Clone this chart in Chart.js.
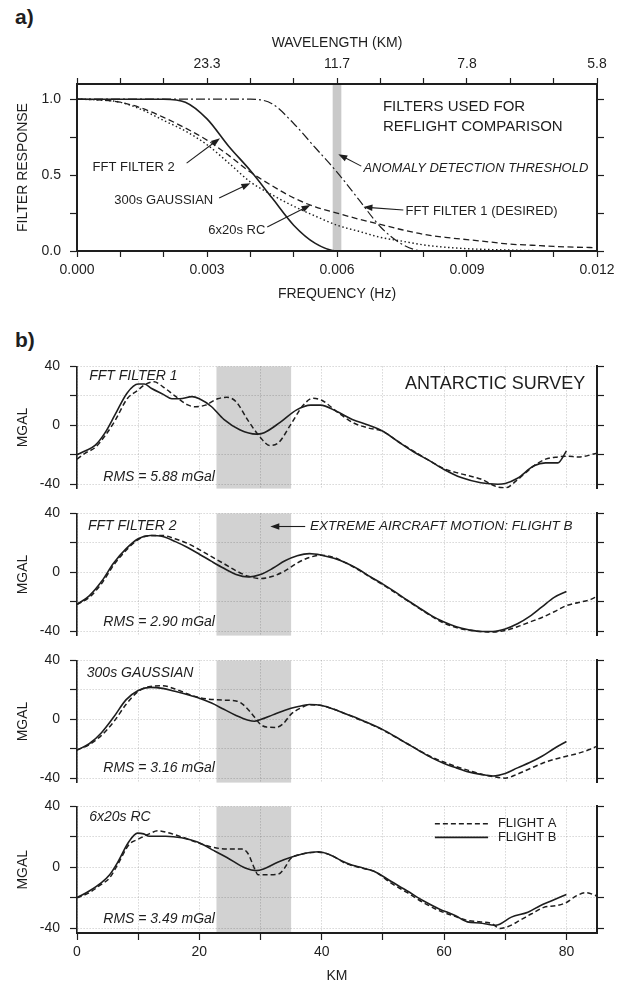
<!DOCTYPE html>
<html>
<head>
<meta charset="utf-8">
<script src="https://cdn.jsdelivr.net/npm/chart.js@4.4.1/dist/chart.umd.min.js"></script>
<style>
  body { margin: 0; background: #ffffff; }
  #wrap { position: relative; width: 628px; height: 984px; overflow: hidden; font-family: 'Liberation Sans', Arial, sans-serif; }
  canvas { position: absolute; left: 0; }
  .panel { position: absolute; left: 15px; font-weight: bold; font-size: 21px; line-height: 22px; color: #1e1e1e; }
</style>
</head>
<body>
<div id="wrap">
  <div class="panel" style="top:6px">a)</div>
  <div class="panel" style="top:329px">b)</div>
  <canvas id="cA" width="628" height="310" style="top:0px"></canvas>
  <canvas id="cB1" width="628" height="159" style="top:348px"></canvas>
  <canvas id="cB2" width="628" height="159" style="top:495px"></canvas>
  <canvas id="cB3" width="628" height="159" style="top:642px"></canvas>
  <canvas id="cB4" width="628" height="200" style="top:788px"></canvas>
</div>
<script>
// ---------------- Panel a data ----------------
const freqHz = [0, 0.0005, 0.001, 0.0015, 0.002, 0.0025, 0.003, 0.0035, 0.004, 0.0045, 0.005, 0.0055, 0.006,
                0.0065, 0.007, 0.0075, 0.008, 0.0085, 0.009, 0.0095, 0.01, 0.0105, 0.011, 0.0115, 0.012];
const respFft1  = [1, 1, 1, 1, 1, 1, 1, 1, 1, 0.97, 0.84, 0.68, 0.52, 0.34, 0.16, 0.045, 0, 0, 0, 0, 0, 0, 0, 0, 0];
const respFft2  = [1, 1, 1, 1, 1, 0.98, 0.87, 0.69, 0.53, 0.35, 0.17, 0.05, 0, 0, 0, 0, 0, 0, 0, 0, 0, 0, 0, 0, 0];
const respGauss = [1, 0.995, 0.98, 0.93, 0.86, 0.79, 0.70, 0.58, 0.455, 0.37, 0.295, 0.23, 0.17, 0.13, 0.09, 0.065,
                   0.04, 0.025, 0.015, 0.01, 0.006, 0.003, 0.002, 0.001, 0];
const respRC    = [1, 0.995, 0.98, 0.94, 0.88, 0.81, 0.73, 0.63, 0.52, 0.43, 0.35, 0.29, 0.25, 0.21, 0.175, 0.14,
                   0.11, 0.09, 0.075, 0.06, 0.045, 0.038, 0.03, 0.025, 0.022];
const freqTicks = [0, 0.001, 0.002, 0.003, 0.004, 0.005, 0.006, 0.007, 0.008, 0.009, 0.01, 0.011, 0.012];
const freqLabelHz = [0, 0.003, 0.006, 0.009, 0.012];
const freqLabels = ['0.000', '0.003', '0.006', '0.009', '0.012'];
const wavelengthHz = [0.003, 0.006, 0.009, 0.012];
const wavelengthLabels = ['23.3', '11.7', '7.8', '5.8'];
const responseTicks = [0, 0.25, 0.5, 0.75, 1];
const responseLabelAt = [0, 0.5, 1];
const responseLabels = ['0.0', '0.5', '1.0'];
const thresholdBandHz = [0.0059, 0.0061];

// ---------------- Panel b data ----------------
const fft1KmB = [0,1.3,3,4.6,6.2,8.2,10,11,12.2,14.1,15.5,16.8,18.8,20,22,24,26.6,29.3,30.6,33.2,35.9,38.2,39.8,42.4,45,47.7,50,52.3,55,57.6,60,62.8,66,68.8,70,72,74.7,76.6,78.6,80];
const fft1FlightB = [-20,-17.5,-13.5,-5,7,22,28,28,25,21,18,18,19.5,18,12.6,4,-3,-6,-5,2,10.5,13.7,13.7,9.5,4,0,-4,-10.5,-18,-24,-30,-35.5,-39,-40,-39.5,-36,-27.5,-25.5,-25.5,-17.5];
const fft1KmA = [0,1.3,3,4.6,6.2,8.2,10,11,12.6,14.1,16,18,19.4,21,23,24.5,26,28,30,31.5,33,35,37,38.5,40,42.4,45,47.5,50,52.3,55,57.6,60,62.8,66,68.8,70,72,74.7,76.6,78.6,80,82,85];
const fft1FlightA = [-23,-19,-15,-7,3,18,24,27.4,29.5,26,20,14,12.6,13.7,18,19,16,3,-8.4,-13.7,-11.6,1,13.7,18.3,17,9.5,2,-1.7,-4.2,-10.5,-17.5,-24,-29.5,-33,-36.5,-42,-42.5,-37,-27.5,-23,-21.5,-21,-21.5,-19];

const fft2KmB = [0,2,4,6,8,10,12,14,16,18,20,22,24,26,28,30,32,34,36,38,40,42,44,46,48,50,52,54,56,58,60,62,64,66,68,70,72,74,76,78,80];
const fft2FlightB = [-21.8,-16,-6.3,6.3,15.9,22.8,25,24.3,21,17,12.3,7.4,2.7,-1.5,-3.2,-1.5,2.7,7.8,11.2,12.7,11.6,9.5,6.3,2.1,-3.2,-8,-13.3,-19,-24.3,-29.6,-33.8,-37,-39,-40.2,-40.2,-38.5,-35,-30,-23.5,-17,-13];
const fft2KmA = [0,2,4,6,8,10,12,14,16,18,20,22,24,26,28,30,32,34,36,38,40,42,44,46,48,50,52,54,56,58,60,62,64,66,68,70,72,74,76,78,80,82,84,85];
const fft2FlightA = [-21.8,-17,-7.8,4.9,14.8,22.2,25,25,22.8,19.7,15.4,10.6,5.9,1,-2.7,-4.2,-2.7,1,6.3,10.1,11.6,10.1,6.3,1.7,-3.4,-8.5,-13.8,-19.3,-24.7,-30,-34.5,-37.5,-39.3,-40.2,-40.6,-39.5,-37,-33.8,-30.7,-26.8,-22.6,-20.5,-18.4,-16.3];

const gaussKmB = [0,2,4,6,8,10,12,14,16,18,20,22,24,26,28,29,30,32,34,36,38,40,42,44,46,48,50,52,54,56,58,60,62,64,66,68,70,72,74,76,78,80];
const gaussFlightB = [-20.9,-16.6,-9.1,1.5,13.2,19.6,21.7,21,19,16.8,14.3,11,6.8,2.6,-0.6,-1.3,-0.2,3,6.2,8.5,10,9.4,6.8,3.6,0.4,-3.2,-7,-11.7,-16.6,-21.5,-26.2,-30,-33,-35.7,-37.4,-38.5,-36.8,-33,-29.4,-25.1,-19.8,-15.1];
const gaussKmA = [0,2,4,6,8,10,12,14,16,18,20,22,24,26,27,28,29,30,31,32.5,33.7,35,36.5,38,40,42,44,46,48,50,54,58,62,64,66,68,70,72,74,76,78,80,82,84,85];
const gaussFlightA = [-20.9,-17.2,-10.9,-1.7,10,18.9,22.3,22.8,20.6,17.4,14.7,13.5,13,12.5,10.5,6.5,1.5,-3.5,-5.3,-5.5,-3,3.5,7.5,9.8,9.4,6.8,3.6,0,-3.4,-7.4,-16.6,-25.7,-32.1,-34.7,-37.2,-38.9,-40,-37.2,-33.6,-30,-27.2,-25.1,-23,-20.2,-18.3];

const rcKmB = [0,2,4,5.3,6.6,8.5,9.9,10.9,11.8,14.5,17.1,19.7,22.4,24.5,27.6,29.3,30.5,32.9,36.8,39.5,41.4,43.4,44.7,46,48.7,51.3,54,56.6,59.2,61.8,63.8,65.8,68.4,69.1,71,73.7,75.7,77.6,80];
const rcFlightB = [-19.8,-15.5,-10,-5,3,17,22.5,22,20.4,20.4,19.4,16.6,11,6.5,-0.6,-2.1,-1,3.6,8.8,10.3,8.2,4,1.9,0.4,-2.8,-9.1,-15.5,-21.9,-27.2,-31.5,-35.7,-36.4,-37.9,-37.2,-32.6,-29.4,-25.1,-21.9,-17.7];
const rcKmA = [0,2,3.9,5.3,6.6,8.5,9.9,11.8,13.2,15.1,17.1,19.7,22.4,25,27,28,29,29.6,30.9,32.9,33.9,34.9,36.8,39.5,41.4,44,46.7,48.7,51.3,54,56.6,59.2,61.8,63.8,65.8,67.8,69.1,70.4,72.4,74.3,76.3,78.3,80,81.6,83.2,85];
const rcFlightA = [-20,-16.6,-11.3,-7,1.5,15,18.3,22,24,22.5,20,16.2,13,12,12,8.8,-0.6,-4.8,-4.8,-4.4,-0.6,5.7,8.8,9.9,8.2,2.5,-0.6,-2.8,-10.2,-16.6,-23,-28.3,-32.1,-34.7,-35.7,-36.8,-40,-38.9,-34.7,-30.4,-26.2,-25.1,-23,-18.7,-16.6,-18.7];

const kmGridTicks = [0,10,20,30,40,50,60,70,80];
const kmLabelAt = [0,20,40,60,80];
const kmLabels = ['0','20','40','60','80'];
const mgalTicks = [-40,-20,0,20,40];
const mgalLabelAt = [-40,0,40];
const mgalLabels = ['-40','0','40'];
const motionShadeKm = [22.8, 35];
const rmsTexts = ['RMS = 5.88 mGal', 'RMS = 2.90 mGal', 'RMS = 3.16 mGal', 'RMS = 3.49 mGal'];
const filterNames = ['FFT FILTER 1', 'FFT FILTER 2', '300s GAUSSIAN', '6x20s RC'];

// ---------------- helpers ----------------
const FONT = "'Liberation Sans', Arial, sans-serif";
const INK = '#1e1e1e';
const GRID = 'rgba(0,0,0,0.30)';
Chart.defaults.font.family = FONT;
Chart.defaults.color = INK;

function pick(v, at, labels) {
  for (let i = 0; i < at.length; i++) if (Math.abs(v - at[i]) < 1e-9) return labels[i];
  return '';
}
function series(xs, ys, dash, width) {
  return {
    data: xs.map((x, i) => ({ x: x, y: ys[i] })),
    borderColor: INK, borderWidth: width, borderDash: dash,
    pointRadius: 0, fill: false, cubicInterpolationMode: 'monotone',
    borderCapStyle: 'butt', borderJoinStyle: 'round'
  };
}
function shadePlugin(range, color) {
  return {
    id: 'shade',
    beforeDraw(chart) {
      const { ctx, chartArea: a, scales: { x } } = chart;
      const x0 = x.getPixelForValue(range[0]), x1 = x.getPixelForValue(range[1]);
      ctx.save();
      ctx.fillStyle = color;
      ctx.fillRect(x0, a.top, x1 - x0, a.bottom - a.top);
      ctx.restore();
    }
  };
}
function notesPlugin(spec) {
  return {
    id: 'notes',
    afterDatasetsDraw(chart) {
      const { ctx, scales: { x, y } } = chart;
      ctx.save();
      ctx.fillStyle = INK; ctx.strokeStyle = INK;
      (spec.texts || []).forEach(t => {
        ctx.font = (t.italic ? 'italic ' : '') + t.size + 'px ' + FONT;
        ctx.textAlign = t.align || 'left';
        ctx.textBaseline = 'middle';
        ctx.fillText(t.text, x.getPixelForValue(t.x), y.getPixelForValue(t.y));
      });
      (spec.arrows || []).forEach(a => {
        const x0 = x.getPixelForValue(a.from[0]), y0 = y.getPixelForValue(a.from[1]);
        const x1 = x.getPixelForValue(a.to[0]), y1 = y.getPixelForValue(a.to[1]);
        const ang = Math.atan2(y1 - y0, x1 - x0), L = 9, W = 3.2;
        ctx.lineWidth = 1.1; ctx.setLineDash([]);
        ctx.beginPath(); ctx.moveTo(x0, y0);
        ctx.lineTo(x1 - L * 0.8 * Math.cos(ang), y1 - L * 0.8 * Math.sin(ang)); ctx.stroke();
        ctx.beginPath(); ctx.moveTo(x1, y1);
        ctx.lineTo(x1 - L * Math.cos(ang) + W * Math.sin(ang), y1 - L * Math.sin(ang) - W * Math.cos(ang));
        ctx.lineTo(x1 - L * Math.cos(ang) - W * Math.sin(ang), y1 - L * Math.sin(ang) + W * Math.cos(ang));
        ctx.closePath(); ctx.fill();
      });
      (spec.legend || []).forEach(l => {
        ctx.lineWidth = l.width; ctx.setLineDash(l.dash);
        ctx.beginPath();
        ctx.moveTo(x.getPixelForValue(l.x0), y.getPixelForValue(l.y));
        ctx.lineTo(x.getPixelForValue(l.x1), y.getPixelForValue(l.y));
        ctx.stroke();
        ctx.setLineDash([]);
        ctx.font = '13px ' + FONT; ctx.textAlign = 'left'; ctx.textBaseline = 'middle';
        ctx.fillText(l.label, x.getPixelForValue(l.tx), y.getPixelForValue(l.y));
      });
      ctx.restore();
    }
  };
}
const tickFont = { family: FONT, size: 14 };
const titleFont = { family: FONT, size: 14 };

// ---------------- Panel a ----------------
new Chart(document.getElementById('cA'), {
  type: 'line',
  data: {
    datasets: [
      series(freqHz, respFft1, [9, 3, 2, 3], 1.2),
      series(freqHz, respRC, [6, 3.5], 1.3),
      series(freqHz, respGauss, [1.5, 2.5], 1.4),
      series(freqHz, respFft2, [], 1.6)
    ]
  },
  options: {
    responsive: false, animation: false, events: [],
    layout: { padding: { left: 0, right: 11, top: 0, bottom: 0 } },
    plugins: { legend: { display: false }, tooltip: { enabled: false } },
    scales: {
      x: {
        type: 'linear', position: 'bottom', min: 0, max: 0.012,
        afterBuildTicks: s => { s.ticks = freqTicks.map(v => ({ value: v })); },
        ticks: { autoSkip: false, maxRotation: 0, padding: 5, font: tickFont, color: INK,
                 callback: v => pick(v, freqLabelHz, freqLabels) },
        grid: { drawOnChartArea: false, drawTicks: true, tickLength: 6, tickColor: INK, tickWidth: 1.2 },
        border: { color: INK, width: 2 },
        title: { display: true, text: 'FREQUENCY (Hz)', font: titleFont, color: INK, padding: { top: 0, bottom: 7 } },
        afterFit: s => { s.height = 59; }
      },
      xTop: {
        type: 'linear', position: 'top', min: 0, max: 0.012,
        afterBuildTicks: s => { s.ticks = freqTicks.map(v => ({ value: v })); },
        ticks: { autoSkip: false, maxRotation: 0, padding: 5.5, font: tickFont, color: INK,
                 callback: v => pick(v, wavelengthHz, wavelengthLabels) },
        grid: { drawOnChartArea: false, drawTicks: true, tickLength: 6, tickColor: INK, tickWidth: 1.2 },
        border: { color: INK, width: 2 },
        title: { display: true, text: 'WAVELENGTH (KM)', font: titleFont, color: INK, padding: { top: 35, bottom: 0 } },
        afterFit: s => { s.height = 84; }
      },
      y: {
        type: 'linear', position: 'left', min: 0, max: 1.1,
        afterBuildTicks: s => { s.ticks = responseTicks.map(v => ({ value: v })); },
        ticks: { padding: 9, font: tickFont, color: INK, callback: v => pick(v, responseLabelAt, responseLabels) },
        grid: { drawOnChartArea: false, drawTicks: true, tickLength: 7, tickColor: INK, tickWidth: 1.2 },
        border: { color: INK, width: 2 },
        title: { display: true, text: 'FILTER RESPONSE', font: titleFont, color: INK, padding: { top: 15, bottom: 0 } },
        afterFit: s => { s.width = 77; }
      },
      yR: {
        type: 'linear', position: 'right', min: 0, max: 1.1,
        afterBuildTicks: s => { s.ticks = responseTicks.map(v => ({ value: v })); },
        ticks: { callback: () => '' },
        grid: { drawOnChartArea: false, drawTicks: true, tickLength: 7, tickColor: INK, tickWidth: 1.2 },
        border: { color: INK, width: 2 },
        afterFit: s => { s.width = 20; }
      }
    }
  },
  plugins: [
    shadePlugin(thresholdBandHz, '#c9c9c9'),
    notesPlugin({
      texts: [
        { text: 'FILTERS USED FOR', x: 0.00706, y: 0.947, size: 15 },
        { text: 'REFLIGHT COMPARISON', x: 0.00706, y: 0.816, size: 15 },
        { text: 'FFT FILTER 2', x: 0.00036, y: 0.553, size: 13 },
        { text: '300s GAUSSIAN', x: 0.00086, y: 0.336, size: 13 },
        { text: '6x20s RC', x: 0.00303, y: 0.138, size: 13 },
        { text: 'ANOMALY DETECTION THRESHOLD', x: 0.00661, y: 0.546, size: 13, italic: true },
        { text: 'FFT FILTER 1 (DESIRED)', x: 0.00758, y: 0.263, size: 13 }
      ],
      arrows: [
        { from: [0.00253, 0.579], to: [0.0033, 0.743] },
        { from: [0.00328, 0.349], to: [0.0040, 0.447] },
        { from: [0.00439, 0.158], to: [0.00539, 0.303] },
        { from: [0.00656, 0.559], to: [0.00603, 0.638] },
        { from: [0.00753, 0.270], to: [0.00661, 0.289] }
      ]
    })
  ]
});

// ---------------- Panel b ----------------
function subplot(id, kmA, valA, kmB, valB, last, notes) {
  new Chart(document.getElementById(id), {
    type: 'line',
    data: { datasets: [ series(kmA, valA, [5, 3], 1.5), series(kmB, valB, [], 1.6) ] },
    options: {
      responsive: false, animation: false, events: [],
      layout: { padding: { left: 0, right: 11, top: 14, bottom: 0 } },
      plugins: { legend: { display: false }, tooltip: { enabled: false } },
      scales: {
        x: {
          type: 'linear', position: 'bottom', min: 0, max: 85,
          afterBuildTicks: s => { s.ticks = kmGridTicks.map(v => ({ value: v })); },
          ticks: { display: last, autoSkip: false, maxRotation: 0, padding: 4, font: tickFont, color: INK,
                   callback: v => pick(v, kmLabelAt, kmLabels) },
          grid: { color: GRID, lineWidth: 0.8, drawTicks: last, tickLength: 7, tickColor: INK, tickWidth: 1.2 },
          border: { display: last, color: INK, width: 2, dash: [1, 2] },
          title: { display: last, text: 'KM', font: titleFont, color: INK, padding: { top: 0, bottom: 3 } },
          afterFit: s => { s.height = last ? 55 : 14; }
        },
        y: {
          type: 'linear', position: 'left', min: -43, max: 40,
          afterBuildTicks: s => { s.ticks = mgalTicks.map(v => ({ value: v })); },
          ticks: { padding: 10, font: tickFont, color: INK, callback: v => pick(v, mgalLabelAt, mgalLabels) },
          grid: { color: GRID, lineWidth: 0.8, drawTicks: true, tickLength: 7, tickColor: INK, tickWidth: 1.2 },
          border: { color: INK, width: 1.6, dash: [1, 2] },
          title: { display: true, text: 'MGAL', font: titleFont, color: INK, padding: { top: 15, bottom: 0 } },
          afterFit: s => { s.width = 77; }
        },
        yR: {
          type: 'linear', position: 'right', min: -43, max: 40,
          afterBuildTicks: s => { s.ticks = mgalTicks.map(v => ({ value: v })); },
          ticks: { callback: () => '' },
          grid: { drawOnChartArea: false, drawTicks: true, tickLength: 7, tickColor: INK, tickWidth: 1.2 },
          border: { color: INK, width: 2 },
          afterFit: s => { s.width = 20; }
        }
      }
    },
    plugins: [ shadePlugin(motionShadeKm, '#d2d2d2'), notesPlugin(notes) ]
  });
}

subplot('cB1', fft1KmA, fft1FlightA, fft1KmB, fft1FlightB, false, {
  texts: [
    { text: filterNames[0], x: 2, y: 33.7, size: 14, italic: true },
    { text: 'ANTARCTIC SURVEY', x: 83.1, y: 28, size: 18, align: 'right' },
    { text: rmsTexts[0], x: 4.3, y: -35, size: 14, italic: true }
  ]
});
subplot('cB2', fft2KmA, fft2FlightA, fft2KmB, fft2FlightB, false, {
  texts: [
    { text: filterNames[1], x: 1.8, y: 31.1, size: 14, italic: true },
    { text: 'EXTREME AIRCRAFT MOTION: FLIGHT B', x: 38.1, y: 31.1, size: 13.5, italic: true },
    { text: rmsTexts[1], x: 4.3, y: -33.7, size: 14, italic: true }
  ],
  arrows: [ { from: [37.3, 31.1], to: [31.6, 31.1] } ]
});
subplot('cB3', gaussKmA, gaussFlightA, gaussKmB, gaussFlightB, false, {
  texts: [
    { text: filterNames[2], x: 1.6, y: 31.1, size: 14, italic: true },
    { text: rmsTexts[2], x: 4.3, y: -33, size: 14, italic: true }
  ]
});
subplot('cB4', rcKmA, rcFlightA, rcKmB, rcFlightB, true, {
  texts: [
    { text: filterNames[3], x: 2, y: 33, size: 14, italic: true },
    { text: rmsTexts[3], x: 4.3, y: -33.7, size: 14, italic: true }
  ],
  legend: [
    { x0: 58.5, x1: 67.2, tx: 68.8, y: 28.6, dash: [5, 3], width: 1.5, label: 'FLIGHT A' },
    { x0: 58.5, x1: 67.2, tx: 68.8, y: 19.7, dash: [], width: 1.6, label: 'FLIGHT B' }
  ]
});
</script>
</body>
</html>
